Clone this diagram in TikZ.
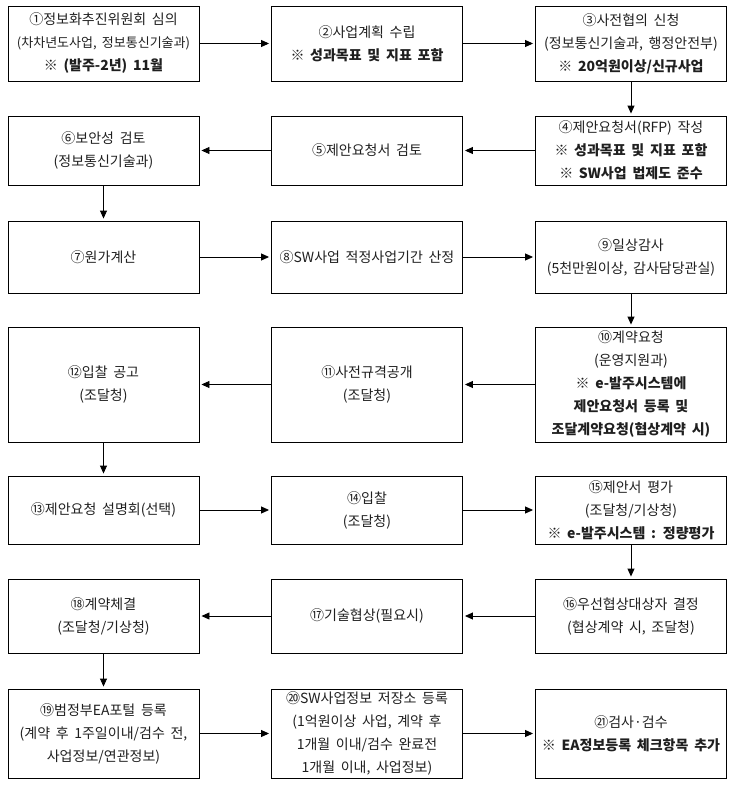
\documentclass[tikz,border=0pt]{standalone}
\usepackage{fontspec}
\setmainfont{Noto Sans CJK KR}[WordSpace=1.8]
\usetikzlibrary{arrows.meta}
\begin{document}
\begin{tikzpicture}[x=1pt,y=-1pt,
  box/.style={draw, line width=0.9pt, minimum width=191pt, align=center, inner sep=1pt,
    font=\fontsize{14}{23}\selectfont, text=black!88},
  flow/.style={-{Triangle[length=8pt,width=7pt]}, line width=0.9pt, shorten >=2pt}]
\useasboundingbox (0,0) rectangle (737,785);
\def\ca{103.5} \def\cb{367} \def\cc{631}
% row 1
\node[box, minimum height=75pt] (n1) at (\ca,43.5) {①정보화추진위원회 심의\\{\fontsize{13}{23}\selectfont (차차년도사업, 정보통신기술과)}\\※ \textbf{(발주-2년) 11월}};
\node[box, minimum height=75pt] (n2) at (\cb,43.5) {②사업계획 수립\\※ \textbf{성과목표 및 지표 포함}};
\node[box, minimum height=75pt] (n3) at (\cc,43.5) {③사전협의 신청\\(정보통신기술과, 행정안전부)\\※ \textbf{20억원이상/신규사업}};
% row 2
\node[box, minimum height=69pt] (n4) at (\cc,150.5) {④제안요청서(RFP) 작성\\※ \textbf{성과목표 및 지표 포함}\\※ \textbf{SW사업 법제도 준수}};
\node[box, minimum height=69pt] (n5) at (\cb,150.5) {⑤제안요청서 검토};
\node[box, minimum height=69pt] (n6) at (\ca,150.5) {⑥보안성 검토\\(정보통신기술과)};
% row 3
\node[box, minimum height=72pt] (n7) at (\ca,257) {⑦원가계산};
\node[box, minimum height=72pt] (n8) at (\cb,257) {⑧SW사업 적정사업기간 산정};
\node[box, minimum height=72pt] (n9) at (\cc,257) {⑨일상감사\\(5천만원이상, 감사담당관실)};
% row 4
\node[box, minimum height=115pt] (n10) at (\cc,384.5) {⑩계약요청\\(운영지원과)\\※ \textbf{e-발주시스템에}\\\textbf{제안요청서 등록 및}\\\textbf{조달계약요청(협상계약 시)}};
\node[box, minimum height=115pt] (n11) at (\cb,384.5) {⑪사전규격공개\\(조달청)};
\node[box, minimum height=115pt] (n12) at (\ca,384.5) {⑫입찰 공고\\(조달청)};
% row 5
\node[box, minimum height=68pt] (n13) at (\ca,510) {⑬제안요청 설명회(선택)};
\node[box, minimum height=68pt] (n14) at (\cb,510) {⑭입찰\\(조달청)};
\node[box, minimum height=68pt] (n15) at (\cc,510) {⑮제안서 평가\\(조달청/기상청)\\※ \textbf{e-발주시스템 : 정량평가}};
% row 6
\node[box, minimum height=74pt] (n16) at (\cc,616) {⑯우선협상대상자 결정\\(협상계약 시, 조달청)};
\node[box, minimum height=74pt] (n17) at (\cb,616) {⑰기술협상(필요시)};
\node[box, minimum height=74pt] (n18) at (\ca,616) {⑱계약체결\\(조달청/기상청)};
% row 7
\node[box, minimum height=89pt] (n19) at (\ca,733.5) {⑲범정부EA포털 등록\\(계약 후 1주일이내/검수 전,\\사업정보/연관정보)};
\node[box, minimum height=89pt] (n20) at (\cb,733.5) {⑳SW사업정보 저장소 등록\\(1억원이상 사업, 계약 후\\1개월 이내/검수 완료전\\1개월 이내, 사업정보)};
\node[box, minimum height=89pt] (n21) at (\cc,733.5) {㉑검사·검수\\※ \textbf{EA정보등록 체크항목 추가}};
% connectors
\draw[flow] (n1) -- (n2);
\draw[flow] (n2) -- (n3);
\draw[flow] (n3) -- (n4);
\draw[flow] (n4) -- (n5);
\draw[flow] (n5) -- (n6);
\draw[flow] (n6) -- (n7);
\draw[flow] (n7) -- (n8);
\draw[flow] (n8) -- (n9);
\draw[flow] (n9) -- (n10);
\draw[flow] (n10) -- (n11);
\draw[flow] (n11) -- (n12);
\draw[flow] (n12) -- (n13);
\draw[flow] (n13) -- (n14);
\draw[flow] (n14) -- (n15);
\draw[flow] (n15) -- (n16);
\draw[flow] (n16) -- (n17);
\draw[flow] (n17) -- (n18);
\draw[flow] (n18) -- (n19);
\draw[flow] (n19) -- (n20);
\draw[flow] (n20) -- (n21);
\end{tikzpicture}
\end{document}
